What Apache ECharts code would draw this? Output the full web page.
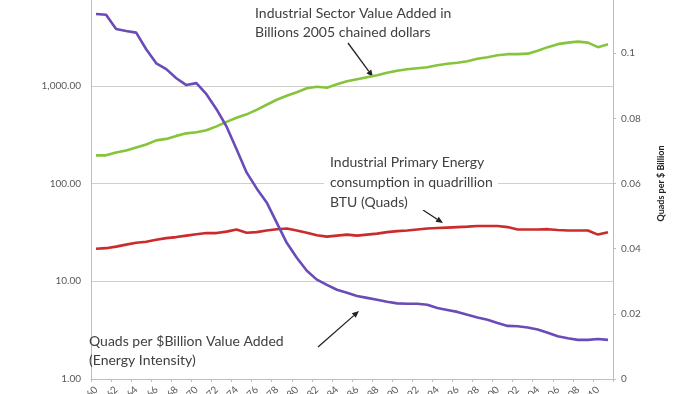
<!DOCTYPE html>
<html>
<head>
<meta charset="utf-8">
<script src="https://cdn.jsdelivr.net/npm/echarts@6/dist/echarts.min.js"></script>
<style>html,body{margin:0;padding:0;background:#fff;}#c{width:700px;height:394px;}</style>
</head>
<body>
<div id="c"></div>
<script>
const years = ['1960','1961','1962','1963','1964','1965','1966','1967','1968','1969',
'1970','1971','1972','1973','1974','1975','1976','1977','1978','1979',
'1980','1981','1982','1983','1984','1985','1986','1987','1988','1989',
'1990','1991','1992','1993','1994','1995','1996','1997','1998','1999',
'2000','2001','2002','2003','2004','2005','2006','2007','2008','2009',
'2010','2011'];

// Industrial Sector Value Added (Billions 2005 chained dollars) - left log axis
const valueAdded = [194,194,208,218,234,251,276,286,307,326,
334,350,384,427,470,510,567,639,719,790,
858,943,977,954,1036,1112,1166,1223,1281,1359,
1425,1477,1512,1548,1623,1681,1721,1784,1892,1960,
2055,2104,2104,2129,2286,2483,2665,2761,2827,2761,
2483,2665];

// Industrial Primary Energy consumption (Quads) - left log axis
const energyQuads = [21.5,21.8,22.6,23.7,24.8,25.4,26.6,27.6,28.3,29.3,
30.3,31.1,31.1,32.2,33.8,31.4,31.8,33.0,34.1,34.6,
33.0,31.4,29.6,28.6,29.3,30.0,29.3,30.0,30.7,31.8,
32.6,33.0,33.8,34.6,35.0,35.4,35.8,36.2,36.7,36.7,
36.7,35.8,33.8,33.8,33.8,34.1,33.4,33.0,33.0,33.0,
30.0,31.8];

// Quads per $Billion Value Added (Energy Intensity) - right axis
const intensity = [0.1120,0.1118,0.1074,0.1068,0.1063,0.1012,0.0969,0.0951,0.0923,0.0902,
0.0908,0.0874,0.0828,0.0775,0.0705,0.0634,0.0585,0.0542,0.0480,0.0418,
0.0372,0.0332,0.0305,0.0289,0.0274,0.0265,0.0255,0.0249,0.0243,0.0237,
0.0232,0.0231,0.0231,0.0228,0.0218,0.0212,0.0206,0.0197,0.0189,0.0182,
0.0172,0.0163,0.0162,0.0158,0.0152,0.0142,0.0131,0.0125,0.0120,0.0120,
0.0123,0.0120];

const chart = echarts.init(document.getElementById('c'), null, {renderer:'canvas'});
const FONT = 'Lato, "Open Sans", sans-serif';
const txtColor = '#404040';

function arrow(x1,y1,x2,y2){
  const a = Math.atan2(y2-y1,x2-x1), L=7, W=3;
  const bx = x2 - L*Math.cos(a), by = y2 - L*Math.sin(a);
  const px = -Math.sin(a)*W, py = Math.cos(a)*W;
  return [
    {type:'line', shape:{x1:x1,y1:y1,x2:bx,y2:by}, style:{stroke:'#222', lineWidth:1.3}, silent:true},
    {type:'polygon', shape:{points:[[x2,y2],[bx+px,by+py],[bx-px,by-py]]}, style:{fill:'#222'}, silent:true}
  ];
}
function label(x,y,lines,gap){
  return lines.map((t,i)=>({type:'text', x:x, y:y+i*gap, z:101,
    style:{text:t, fill:txtColor, font:'14px '+FONT, verticalAlign:'middle', textVerticalAlign:'middle'}, silent:true}));
}

const graphics = [].concat(
  [{type:'rect', shape:{x:324, y:150, width:174, height:60}, style:{fill:'#fff'}, z:100, silent:true}],
  label(255,13,['Industrial Sector Value Added in','Billions 2005 chained dollars'],19),
  arrow(348,43,373,77),
  label(330,162,['Industrial Primary Energy','consumption in quadrillion','BTU (Quads)'],20),
  arrow(423,210,443,223),
  label(89,341,['Quads per $Billion Value Added','(Energy Intensity)'],19),
  arrow(318,347,359,311)
);

chart.setOption({
  animation:false,
  backgroundColor:'#fff',
  grid:{left:91, right:87, top:-12, bottom:15, containLabel:false, outerBoundsMode:'none'},
  xAxis:{
    type:'category', data:years, boundaryGap:true,
    axisLine:{lineStyle:{color:'#bdbdbd', width:1}},
    axisTick:{show:true, length:3, lineStyle:{color:'#bdbdbd'}},
    axisLabel:{interval:1, rotate:45, margin:9, color:'#595959', fontSize:10, fontFamily:FONT},
    splitLine:{show:false}
  },
  yAxis:[{
    type:'log', logBase:10, min:1, max:10000, position:'left',
    axisLine:{show:true, lineStyle:{color:'#bdbdbd'}},
    axisTick:{show:false},
    axisLabel:{color:'#595959', fontSize:10, fontFamily:FONT, margin:10,
      formatter:v=>Number(v).toLocaleString('en-US',{minimumFractionDigits:2,maximumFractionDigits:2})},
    splitLine:{show:true, lineStyle:{color:'#cfcfcf', width:1}}
  },{
    type:'value', min:0, max:0.12, interval:0.02, position:'right',
    name:'Quads per $ Billion', nameLocation:'middle', nameGap:44, nameRotate:90,
    nameTextStyle:{color:'#222', fontSize:9, fontWeight:'bold', fontFamily:FONT},
    axisLine:{show:true, lineStyle:{color:'#bdbdbd'}},
    axisTick:{show:true, length:3, lineStyle:{color:'#bdbdbd'}},
    axisLabel:{color:'#595959', fontSize:10, fontFamily:FONT, margin:8,
      formatter:v=>String(+v.toFixed(2))},
    splitLine:{show:false}
  }],
  series:[
    {name:'Value Added', type:'line', yAxisIndex:0, data:valueAdded, showSymbol:false, symbol:'none',
      lineStyle:{color:'#86c43c', width:2.6}},
    {name:'Energy', type:'line', yAxisIndex:0, data:energyQuads, showSymbol:false, symbol:'none',
      lineStyle:{color:'#cc2b2b', width:2.6}},
    {name:'Intensity', type:'line', yAxisIndex:1, data:intensity, showSymbol:false, symbol:'none',
      lineStyle:{color:'#6a4bb8', width:2.6}}
  ],
  graphic:graphics
});
</script>
</body>
</html>
